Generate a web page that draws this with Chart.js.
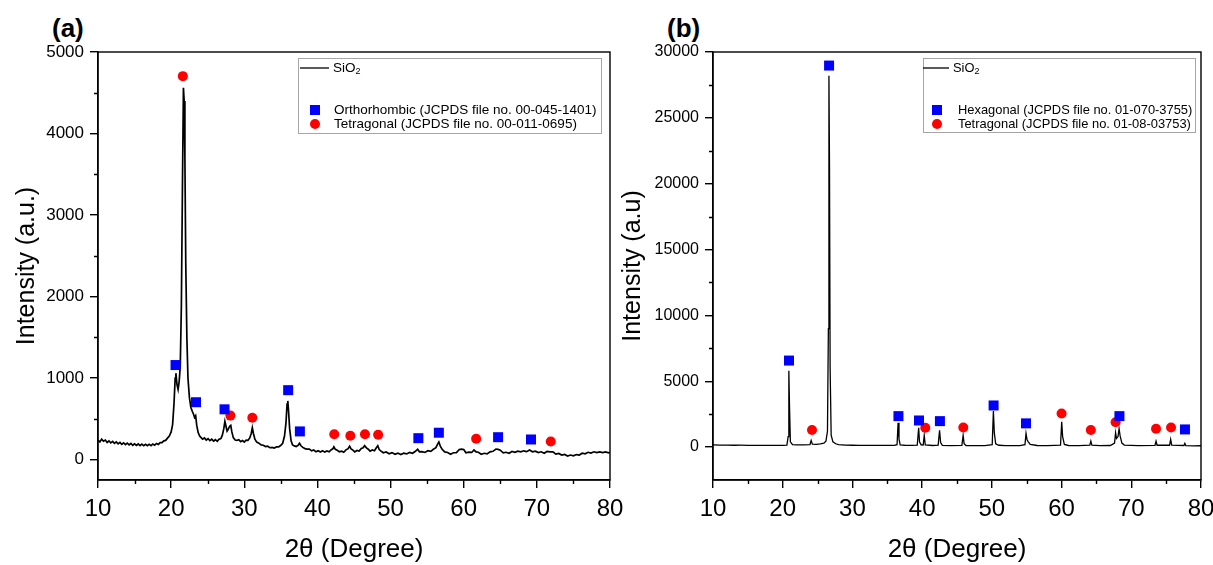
<!DOCTYPE html>
<html>
<head>
<meta charset="utf-8">
<script src="https://cdn.jsdelivr.net/npm/chart.js@4.4.0/dist/chart.umd.min.js"></script>
<style>
  body { margin: 0; background: #fff; width: 1213px; height: 565px; overflow: hidden; position: relative; font-family: "Liberation Sans", Arial, sans-serif; }
  canvas { position: absolute; top: 0; }
  #chartA { left: 0; }
  #chartB { left: 600px; }
  .tag { position: absolute; top: 13px; font-weight: bold; font-size: 26px; color: #000; }
</style>
</head>
<body>
<div class="tag" style="left:52px">(a)</div>
<div class="tag" style="left:667px">(b)</div>
<canvas id="chartA" width="640" height="565"></canvas>
<canvas id="chartB" width="613" height="565"></canvas>
<script>
// ---- panel (a) data ----
const aTheta = [
  10.0, 10.25, 10.5, 10.75, 11.0, 11.25, 11.5, 11.75, 12.0, 12.25,
  12.5, 12.75, 13.0, 13.25, 13.5, 13.75, 14.0, 14.25, 14.5, 14.75,
  15.0, 15.25, 15.5, 15.75, 16.0, 16.25, 16.5, 16.75, 17.0, 17.25,
  17.5, 17.75, 18.0, 18.25, 18.5, 18.75, 19.0, 19.25, 19.5, 19.75,
  20.0, 20.2, 20.4, 20.55, 20.65, 20.8, 20.95, 21.1, 21.25, 21.4,
  21.55, 21.68, 21.78, 21.88, 22.0, 22.15, 22.3, 22.5, 22.7, 22.9,
  23.05, 23.2, 23.35, 23.5, 23.7, 23.9, 24.1, 24.3, 24.55, 24.8,
  25.05, 25.3, 25.55, 25.8, 26.05, 26.3, 26.55, 26.8, 27.0, 27.2,
  27.35, 27.5, 27.65, 27.8, 28.0, 28.15, 28.3, 28.5, 28.75, 29.0,
  29.25, 29.5, 29.75, 30.0, 30.25, 30.5, 30.75, 30.95, 31.1, 31.25,
  31.45, 31.7, 32.0, 32.3, 32.6, 32.9, 33.2, 33.5, 33.8, 34.1,
  34.4, 34.7, 35.0, 35.25, 35.5, 35.7, 35.85, 35.95, 36.05, 36.2,
  36.4, 36.6, 36.85, 37.1, 37.35, 37.55, 37.75, 38.0, 38.3, 38.6,
  38.9, 39.2, 39.5, 39.8, 40.1, 40.4, 40.7, 41.0, 41.3, 41.6,
  41.9, 42.1, 42.25, 42.45, 42.7, 43.0, 43.3, 43.6, 43.9, 44.2,
  44.4, 44.6, 44.85, 45.1, 45.4, 45.7, 46.0, 46.25, 46.45, 46.7,
  46.95, 47.2, 47.5, 47.8, 48.05, 48.25, 48.45, 48.7, 49.0, 49.4,
  49.8, 50.2, 50.6, 51.0, 51.4, 51.8, 52.2, 52.6, 53.0, 53.4,
  53.7, 53.95, 54.3, 54.7, 55.1, 55.5, 55.9, 56.2, 56.45, 56.6,
  56.8, 57.05, 57.4, 57.8, 58.2, 58.6, 59.0, 59.4, 59.7, 60.0,
  60.3, 60.7, 61.1, 61.4, 61.7, 62.0, 62.4, 62.8, 63.2, 63.6,
  64.0, 64.4, 64.7, 65.0, 65.4, 65.8, 66.2, 66.6, 67.0, 67.4,
  67.8, 68.2, 68.6, 69.0, 69.4, 69.8, 70.2, 70.6, 71.0, 71.4,
  71.8, 72.2, 72.6, 73.0, 73.4, 73.8, 74.2, 74.6, 75.0, 75.4,
  75.8, 76.2, 76.6, 77.0, 77.4, 77.8, 78.2, 78.6, 79.0, 79.4,
  79.8, 80.0
];
const aIntensity = [
  240, 218, 252, 226, 240, 210, 230, 206, 224, 200,
  218, 194, 212, 188, 206, 184, 202, 180, 198, 176,
  194, 174, 192, 172, 190, 170, 188, 170, 187, 172,
  192, 178, 198, 186, 208, 208, 230, 236, 264, 288,
  340, 430, 700, 1000, 1060, 920, 860, 960, 1150, 1900,
  3400, 4560, 4400, 3700, 2400, 1500, 1000, 760, 640, 590,
  560, 520, 540, 420, 330, 290, 270, 250, 266, 240,
  256, 232, 250, 226, 244, 224, 250, 258, 300, 380,
  470, 410, 350, 370, 410, 420, 340, 270, 240, 236,
  244, 220, 234, 216, 238, 236, 266, 320, 390, 320,
  250, 215, 202, 180, 176, 160, 164, 146, 150, 142,
  156, 156, 176, 200, 290, 450, 680, 720, 600, 380,
  230, 180, 168, 160, 175, 200, 170, 150, 135, 128,
  128, 108, 118, 96, 110, 94, 108, 92, 106, 96,
  122, 132, 158, 126, 114, 96, 104, 90, 120, 134,
  165, 132, 116, 94, 112, 104, 138, 146, 172, 144,
  128, 104, 118, 108, 146, 170, 124, 104, 84, 94,
  72, 86, 66, 80, 62, 78, 70, 88, 78, 102,
  128, 96, 98, 88, 110, 102, 130, 146, 194, 216,
  166, 126, 94, 88, 66, 84, 86, 124, 128, 124,
  84, 92, 88, 118, 94, 90, 66, 78, 70, 96,
  102, 130, 126, 116, 82, 90, 78, 100, 90, 104,
  96, 108, 98, 118, 96, 104, 86, 96, 78, 100,
  94, 96, 68, 76, 56, 64, 44, 56, 46, 62,
  56, 78, 72, 90, 80, 96, 86, 94, 86, 94,
  84, 90
];
const aSquareTheta = [20.6, 23.4, 27.3, 36.0, 37.6, 53.8, 56.6, 64.7, 69.2];
const aSquareInt = [1160, 704, 617, 852, 346, 263, 330, 275, 247];
const aCircleTheta = [21.6, 28.1, 31.1, 42.3, 44.5, 46.5, 48.3, 61.7, 71.9];
const aCircleInt = [4704, 540, 514, 312, 293, 312, 305, 256, 222];
const aYTicks = [0, 1000, 2000, 3000, 4000, 5000];
const aYMinor = [500, 1500, 2500, 3500, 4500];
const aLegend = ['SiO', 'Orthorhombic (JCPDS file no. 00-045-1401)', 'Tetragonal (JCPDS file no. 00-011-0695)'];

// ---- panel (b) data ----
const bTheta = [
  10, 11, 12, 13, 14, 15, 16, 17, 18, 19,
  20, 20.6, 20.78, 20.88, 20.98, 21.1, 21.4, 22, 23, 23.9,
  24.08, 24.25, 24.8, 25.4, 25.9, 26.2, 26.42, 26.55, 26.63, 26.71,
  26.8, 26.95, 27.2, 27.6, 28, 29, 30, 31, 32, 33,
  34, 35, 36, 36.4, 36.55, 36.68, 36.85, 37.5, 38.5, 39.3,
  39.5, 39.62, 39.85, 40.15, 40.3, 40.45, 41.5, 42.3, 42.5, 42.65,
  42.9, 44, 45.7, 45.88, 46.02, 46.3, 47.5, 49, 50.05, 50.22,
  50.35, 50.55, 51, 52, 53, 54, 54.75, 54.9, 55.05, 55.2,
  55.5, 56.5, 58, 59.85, 60.02, 60.15, 60.4, 61, 62.5, 64.05,
  64.2, 64.35, 65.5, 67, 67.6, 67.75, 67.88, 68.1, 68.25, 68.4,
  68.65, 69, 71, 73.4, 73.55, 73.7, 75.5, 75.65, 75.8, 77.55,
  77.68, 77.82, 79, 80
];
const bIntensity = [
  160, 150, 148, 140, 142, 135, 130, 132, 128, 130,
  135, 150, 800, 5800, 3000, 400, 180, 160, 170, 190,
  500, 220, 210, 240, 300, 450, 1200, 9000, 28200, 21500,
  6000, 900, 400, 250, 180, 150, 140, 135, 132, 128,
  126, 125, 130, 180, 1850, 600, 170, 140, 125, 150,
  1470, 400, 170, 160, 890, 170, 120, 150, 1265, 350,
  130, 115, 130, 890, 260, 120, 110, 110, 180, 2730,
  1100, 250, 140, 110, 105, 110, 180, 1040, 550, 420,
  200, 120, 110, 150, 1920, 800, 200, 120, 110, 140,
  450, 150, 110, 120, 300, 1090, 650, 800, 1390, 850,
  300, 150, 110, 130, 450, 140, 140, 580, 150, 120,
  280, 110, 95, 100
];
const bSquareTheta = [20.9, 26.65, 36.6, 39.55, 42.55, 50.25, 54.9, 68.3, 77.7];
const bSquareInt = [6570, 28970, 2350, 2020, 1970, 3160, 1800, 2350, 1340];
const bCircleTheta = [24.2, 40.45, 45.9, 60.0, 64.2, 67.75, 73.55, 75.7];
const bCircleInt = [1290, 1470, 1490, 2550, 1290, 1890, 1390, 1490];
const bYTicks = [0, 5000, 10000, 15000, 20000, 25000, 30000];
const bYMinor = [2500, 7500, 12500, 17500, 22500, 27500];
const bLegend = ['SiO', 'Hexagonal (JCPDS file no. 01-070-3755)', 'Tetragonal (JCPDS file no. 01-08-03753)'];

// ---- shared ----
const xTicks = [10, 20, 30, 40, 50, 60, 70, 80];
const xMinor = [15, 25, 35, 45, 55, 65, 75];

const FONT = '"Liberation Sans", Arial, sans-serif';
const toPoints = (xs, ys) => xs.map((x, i) => ({ x: x, y: ys[i] }));

// frame, minor ticks and the in-plot legend
const framePlugin = {
  id: 'frameTicks',
  afterDraw(chart, args, opts) {
    const { ctx, chartArea: ca, scales } = chart;
    ctx.save();
    ctx.strokeStyle = '#000';
    ctx.lineWidth = 1.4;
    ctx.strokeRect(ca.left, ca.top, ca.right - ca.left, ca.bottom - ca.top);
    ctx.beginPath();
    opts.xMinor.forEach(v => {
      const px = Math.round(scales.x.getPixelForValue(v)) + 0.5;
      ctx.moveTo(px, ca.bottom);
      ctx.lineTo(px, ca.bottom + 4);
    });
    opts.yMinor.forEach(v => {
      const py = Math.round(scales.y.getPixelForValue(v)) + 0.5;
      ctx.moveTo(ca.left, py);
      ctx.lineTo(ca.left - 4, py);
    });
    ctx.stroke();

    // legend box
    const lg = opts.legend;
    const f = lg.font;
    ctx.strokeStyle = '#a6a6a6';
    ctx.lineWidth = 1;
    ctx.strokeRect(lg.box[0] + 0.5, lg.box[1] + 0.5, lg.box[2], lg.box[3]);
    ctx.strokeStyle = '#000';
    ctx.lineWidth = 1.3;
    ctx.beginPath();
    ctx.moveTo(lg.line[0], lg.rows[0]);
    ctx.lineTo(lg.line[1], lg.rows[0]);
    ctx.stroke();
    ctx.fillStyle = '#000';
    ctx.textBaseline = 'middle';
    ctx.font = f + 'px ' + FONT;
    ctx.fillText(lg.labels[0], lg.line[1] + 4, lg.rows[0]);
    const w = ctx.measureText(lg.labels[0]).width;
    ctx.font = Math.round(f * 0.68) + 'px ' + FONT;
    ctx.fillText('2', lg.line[1] + 4 + w, lg.rows[0] + 4);
    ctx.font = f + 'px ' + FONT;
    ctx.fillStyle = '#0000ff';
    ctx.fillRect(lg.mark - 5, lg.rows[1] - 5, 10, 10);
    ctx.fillStyle = '#ff0000';
    ctx.beginPath();
    ctx.arc(lg.mark, lg.rows[2], 5, 0, Math.PI * 2);
    ctx.fill();
    ctx.fillStyle = '#000';
    ctx.fillText(lg.labels[1], lg.text, lg.rows[1]);
    ctx.fillText(lg.labels[2], lg.text, lg.rows[2]);
    ctx.restore();
  }
};

function makeChart(id, cfg) {
  const ctx = document.getElementById(id).getContext('2d');
  return new Chart(ctx, {
    type: 'scatter',
    data: {
      datasets: [
        {
          data: toPoints(cfg.sqX, cfg.sqY),
          pointStyle: 'rect',
          pointRadius: 7.07,
          backgroundColor: '#0000ff',
          borderWidth: 0,
          order: 0
        },
        {
          data: toPoints(cfg.ciX, cfg.ciY),
          pointStyle: 'circle',
          pointRadius: 5,
          backgroundColor: '#ff0000',
          borderWidth: 0,
          order: 1
        },
        {
          data: toPoints(cfg.lineX, cfg.lineY),
          showLine: true,
          borderColor: '#000',
          borderWidth: cfg.lineWidth,
          pointRadius: 0,
          tension: 0,
          order: 2
        }
      ]
    },
    options: {
      responsive: false,
      animation: false,
      events: [],
      layout: { padding: { left: 0, top: 52, right: cfg.padRight, bottom: 0 } },
      plugins: {
        legend: { display: false },
        tooltip: { enabled: false },
        frameTicks: { xMinor: xMinor, yMinor: cfg.yMinor, legend: cfg.legend }
      },
      scales: {
        x: {
          type: 'linear',
          min: 10,
          max: 80,
          afterBuildTicks: s => { s.ticks = xTicks.map(v => ({ value: v })); },
          afterFit: s => { s.height = 85; s.paddingLeft = 0; s.paddingRight = 0; },
          ticks: { color: '#000', font: { family: FONT, size: 24 }, padding: 7, maxRotation: 0, callback: v => String(v) },
          grid: { drawOnChartArea: false, tickLength: 8, color: '#000', lineWidth: 1.4 },
          border: { color: '#000', width: 1.4 },
          title: { display: true, text: '2θ (Degree)', color: '#000', font: { family: FONT, size: 26 }, padding: { top: 0, bottom: 0 } }
        },
        y: {
          type: 'linear',
          min: cfg.yMin,
          max: cfg.yMax,
          afterBuildTicks: s => { s.ticks = cfg.yTicks.map(v => ({ value: v })); },
          afterFit: s => { s.width = cfg.yWidth; s.paddingTop = 0; s.paddingBottom = 0; },
          ticks: { color: '#000', font: { family: FONT, size: cfg.yFont }, padding: 6, callback: v => String(v) },
          grid: { drawOnChartArea: false, tickLength: 8, color: '#000', lineWidth: 1.4 },
          border: { color: '#000', width: 1.4 },
          title: { display: true, text: cfg.yTitle, color: '#000', font: { family: FONT, size: 25 }, padding: { top: cfg.yTitlePad, bottom: 0 } }
        }
      }
    },
    plugins: [framePlugin]
  });
}

makeChart('chartA', {
  lineX: aTheta, lineY: aIntensity, lineWidth: 1.7,
  sqX: aSquareTheta, sqY: aSquareInt,
  ciX: aCircleTheta, ciY: aCircleInt,
  yMin: -250, yMax: 5000, yTicks: aYTicks, yMinor: aYMinor,
  yWidth: 98, yFont: 17, padRight: 30,
  yTitle: 'Intensity (a.u.)', yTitlePad: 12,
  legend: { box: [298, 58, 303, 75], line: [300, 329], rows: [68, 110, 124], mark: 315, text: 334, font: 13.5, labels: aLegend }
});

makeChart('chartB', {
  lineX: bTheta, lineY: bIntensity, lineWidth: 1.3,
  sqX: bSquareTheta, sqY: bSquareInt,
  ciX: bCircleTheta, ciY: bCircleInt,
  yMin: -2500, yMax: 30000, yTicks: bYTicks, yMinor: bYMinor,
  yWidth: 113, yFont: 16, padRight: 12,
  yTitle: 'Intensity (a.u)', yTitlePad: 18,
  legend: { box: [323, 58, 272, 74], line: [323, 349], rows: [68, 110, 124], mark: 337, text: 358, font: 12.9, labels: bLegend }
});
</script>
</body>
</html>
